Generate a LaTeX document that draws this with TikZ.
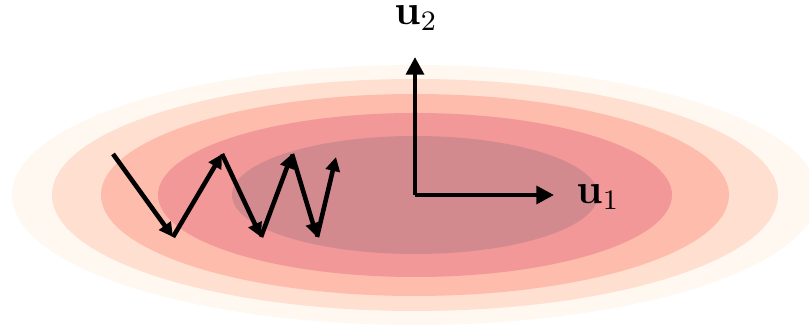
\documentclass[tikz,border=0pt]{standalone}
\usepackage{tikz}
\usepackage{xcolor}
\usetikzlibrary{positioning, arrows.meta}
\definecolor{RedA}{HTML}{FFF8F0}
\definecolor{RedB}{HTML}{FEDFD0}
\definecolor{RedC}{HTML}{FDBCAC}
\definecolor{RedD}{HTML}{F29898}
\definecolor{RedE}{HTML}{D38A8E}
\tikzset{
  level/.style={draw=none},
  axis/.style={-{Triangle[length=5pt,width=5pt]}, line width=1.2pt},
  stepline/.style={-{Triangle[length=4pt,width=4pt]}, line width=1.3pt},
  lbl/.style={font=\large, inner sep=1pt},
}

\begin{document}
\begin{tikzpicture}[x=0.01cm, y=-0.01cm]
  \useasboundingbox (0,0) rectangle (809,328);
  \clip (0,0) rectangle (809,328);

  % ---- contour levels ----
  \fill[level, RedA] (415,195) ellipse [x radius=403, y radius=130];
  \fill[level, RedB] (415,195) ellipse [x radius=363, y radius=116];
  \fill[level, RedC] (415,195) ellipse [x radius=314, y radius=101];
  \fill[level, RedD] (415,195) ellipse [x radius=257, y radius=82];
  \fill[level, RedE] (415,195) ellipse [x radius=183, y radius=59];

  % ---- principal directions ----
  \coordinate (o)  at (415,195);
  \coordinate (e1) at (554,195);
  \coordinate (e2) at (415,57);
  \draw[axis] (o) -- (e1);
  \draw[axis] (o) -- (e2);
  \node[lbl] (u1) at (598,197) {$\mathbf{u}_1$};
  \node[lbl] (u2) at (416,18)  {$\mathbf{u}_2$};

  % ---- zig-zag descent ----
  \coordinate (p0) at (113,154);
  \coordinate (p1) at (173,237);
  \coordinate (p2) at (222,154);
  \coordinate (p3) at (261,237);
  \coordinate (p4) at (292,154);
  \coordinate (p5) at (317,237);
  \coordinate (p6) at (336,157);
  \draw[stepline] (p0) -- (p1);
  \draw[stepline] (p1) -- (p2);
  \draw[stepline] (p2) -- (p3);
  \draw[stepline] (p3) -- (p4);
  \draw[stepline] (p4) -- (p5);
  \draw[stepline] (p5) -- (p6);
\end{tikzpicture}
\end{document}
